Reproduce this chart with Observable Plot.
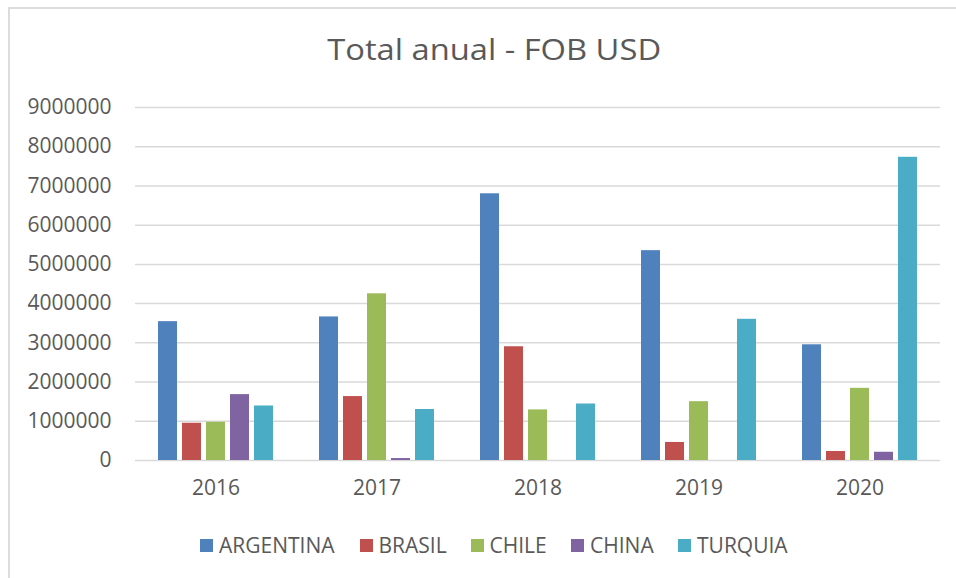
<!DOCTYPE html>
<html>
<head>
<meta charset="utf-8">
<script src="https://cdn.jsdelivr.net/npm/d3@7"></script>
<script src="https://cdn.jsdelivr.net/npm/@observablehq/plot@0.6"></script>
<style>
  html, body { margin: 0; padding: 0; background: #fff; overflow: hidden; }
  #wrap { position: relative; width: 956px; height: 578px; overflow: hidden; font-family: "Open Sans", sans-serif; color: #595959; }
  #frame { position: absolute; left: 8px; top: 7px; width: 1000px; height: 700px; border: 2px solid #dcdcdc; box-sizing: border-box; }
  #title { position: absolute; left: 0; width: 988px; top: 34px; text-align: center; font-size: 30px; line-height: 1; white-space: nowrap; }
  #title span { display: inline-block; transform: scaleX(1.09); }
  #chart { position: absolute; left: 0; top: 90px; }
  .lg { position: absolute; top: 535px; display: flex; align-items: center; font-size: 21px; line-height: 20px; white-space: nowrap; }
  .lg i { display: inline-block; width: 13px; height: 13px; margin-right: 6px; }
</style>
</head>
<body>
<div id="wrap">
  <div id="frame"></div>
  <div id="title"><span>Total anual - FOB USD</span></div>
  <div id="chart"></div>
  <div id="legend"></div>
</div>
<script>
// ---- data ----
const years = ["2016", "2017", "2018", "2019", "2020"];
const countries = ["ARGENTINA", "BRASIL", "CHILE", "CHINA", "TURQUIA"];
const argentina = [3540000, 3660000, 6800000, 5350000, 2950000];
const brasil    = [950000, 1630000, 2900000, 460000, 230000];
const chile     = [975000, 4250000, 1290000, 1500000, 1840000];
const china     = [1680000, 50000, null, null, 210000];
const turquia   = [1390000, 1300000, 1440000, 3600000, 7730000];
const colors = ["#4F81BD", "#C0504D", "#9BBB59", "#8064A2", "#4BACC6"];
const yTicks = [0, 1000000, 2000000, 3000000, 4000000, 5000000, 6000000, 7000000, 8000000, 9000000];

const series = [argentina, brasil, chile, china, turquia];
const data = [];
years.forEach((yr, i) => {
  countries.forEach((c, j) => {
    const v = series[j][i];
    if (v != null) data.push({year: yr, country: c, value: v});
  });
});

const chart = Plot.plot({
  width: 956,
  height: 430,
  marginLeft: 134,
  marginRight: 16,
  marginTop: 17,
  marginBottom: 60,
  style: {fontFamily: "Open Sans, sans-serif", fontSize: "21px", color: "#595959", background: "transparent"},
  fx: {domain: years, padding: 0, axis: "bottom", tickSize: 0, tickPadding: 20, label: null},
  x: {domain: countries, axis: null, paddingInner: 0.217, paddingOuter: 0.878},
  y: {domain: [0, 9000000], ticks: yTicks, tickFormat: d => String(d), tickSize: 0, tickPadding: 24, label: null},
  color: {domain: countries, range: colors},
  marks: [
    Plot.ruleY(yTicks, {stroke: "#d9d9d9", strokeWidth: 1.5}),
    Plot.barY(data, {fx: "year", x: "country", y: "value", fill: "country"})
  ]
});
document.getElementById("chart").appendChild(chart);

// legend
const lefts = [200, 359.5, 470.5, 571, 678];
const lg = document.getElementById("legend");
countries.forEach((c, j) => {
  const d = document.createElement("div");
  d.className = "lg";
  d.style.left = lefts[j] + "px";
  d.innerHTML = `<i style="background:${colors[j]}"></i><span>${c}</span>`;
  lg.appendChild(d);
});
</script>
</body>
</html>
